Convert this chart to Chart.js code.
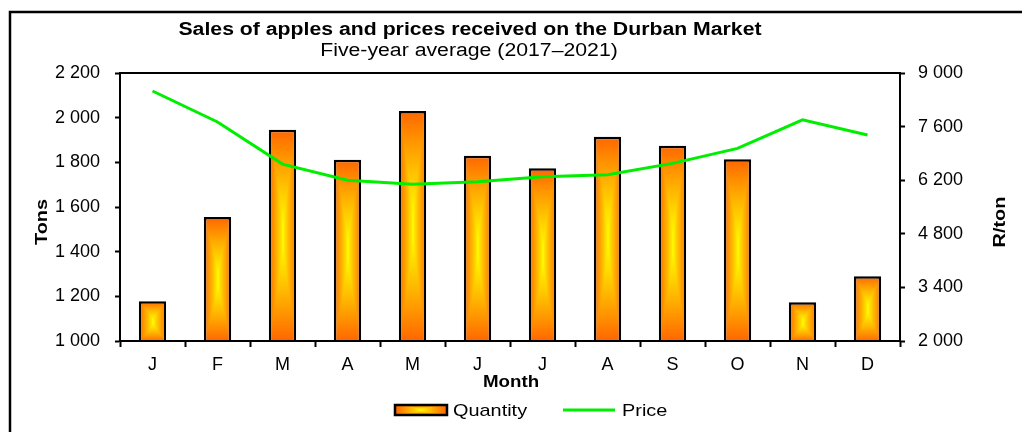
<!DOCTYPE html>
<html>
<head>
<meta charset="utf-8">
<script src="https://cdn.jsdelivr.net/npm/chart.js@4.4.1/dist/chart.umd.min.js"></script>
<style>
  html, body { margin: 0; background: #fff; }
  #wrap { width: 1022px; height: 432px; }
</style>
</head>
<body>
<div id="wrap"><canvas id="salesChart"></canvas></div>
<script>
// data
const months = ['J', 'F', 'M', 'A', 'M', 'J', 'J', 'A', 'S', 'O', 'N', 'D'];
const quantity = [1178, 1555, 1946, 1812, 2030, 1830, 1774, 1914, 1874, 1814, 1174, 1290];
const price = [8530, 7720, 6620, 6200, 6095, 6160, 6290, 6345, 6640, 7030, 7775, 7380];
const tonsTicks = [1000, 1200, 1400, 1600, 1800, 2000, 2200];
const randTicks = [2000, 3400, 4800, 6200, 7600, 9000];

const FONT = "'Liberation Sans', Arial, sans-serif";
const BAR_PCT = 0.42;
const STRETCH = 1.17; // the reference text is a little wider than Arial

Chart.defaults.font.family = FONT;
Chart.defaults.color = '#000';

function spaced(v) {
    return String(v).replace(/\B(?=(\d{3})+(?!\d))/g, ' ');
}

// orange-to-yellow "glow" fill, as in the spreadsheet bars
const fillCache = {};
function glowFill(w, h) {
    const key = w + 'x' + h;
    if (fillCache[key]) return fillCache[key];
    const c = document.createElement('canvas');
    c.width = w;
    c.height = h;
    const g = c.getContext('2d');
    const img = g.createImageData(w, h);
    for (let py = 0; py < h; py++) {
        const dy = Math.abs(py + 0.5 - h / 2) / (h / 2);
        for (let px = 0; px < w; px++) {
            const dx = Math.abs(px + 0.5 - w / 2) / (w / 2);
            const t = Math.min(1, Math.max(dx, Math.pow(dy, 1.5)));
            const k = (py * w + px) * 4;
            img.data[k] = 255;
            img.data[k + 1] = Math.round(255 - 155 * Math.pow(t, 0.8));
            img.data[k + 2] = 0;
            img.data[k + 3] = 255;
        }
    }
    g.putImageData(img, 0, 0);
    fillCache[key] = c;
    return c;
}

function barBackground(context) {
    const chart = context.chart;
    const i = context.dataIndex;
    const xs = chart.scales.x, ys = chart.scales.y;
    if (i === undefined || !xs || !ys || !xs.width) return '#ff9900';
    const cx = xs.getPixelForValue(i);
    const w = Math.ceil(xs.width / months.length * BAR_PCT) + 2;
    const top = Math.floor(ys.getPixelForValue(context.raw));
    const h = Math.max(2, Math.ceil(ys.getPixelForValue(ys.min)) - top + 1);
    const left = Math.round(cx - w / 2);
    const pat = chart.ctx.createPattern(glowFill(w, h), 'no-repeat');
    pat.setTransform(new DOMMatrix([1, 0, 0, 1, left, top]));
    return pat;
}

function wideText(ctx, str, x, y, font, align, rot, stretch) {
    ctx.save();
    ctx.translate(x, y);
    if (rot) ctx.rotate(rot);
    ctx.scale(stretch || STRETCH, 1);
    ctx.font = font;
    ctx.fillStyle = '#000';
    ctx.textAlign = align;
    ctx.textBaseline = 'middle';
    ctx.fillText(str, 0, 0);
    ctx.restore();
}

// frame, headings, axis titles and legend
const decor = {
    id: 'decor',
    beforeDraw(chart) {
        const ctx = chart.ctx;
        ctx.save();
        ctx.strokeStyle = '#000';
        ctx.lineWidth = 2.5;
        ctx.beginPath();
        ctx.moveTo(10, 440);
        ctx.lineTo(10, 12);
        ctx.lineTo(1030, 12);
        ctx.stroke();
        ctx.restore();
    },
    afterDraw(chart) {
        const ctx = chart.ctx;
        const a = chart.chartArea;
        ctx.save();
        ctx.strokeStyle = '#000';
        ctx.lineWidth = 2;
        ctx.strokeRect(a.left, a.top, a.right - a.left, a.bottom - a.top);
        ctx.restore();

        wideText(ctx, 'Sales of apples and prices received on the Durban Market', 470, 30, 'bold 18px ' + FONT, 'center', 0, 1.18);
        wideText(ctx, 'Five-year average (2017–2021)', 469, 51, '18px ' + FONT, 'center', 0, 1.18);
        wideText(ctx, 'Tons', 42, 222, 'bold 17px ' + FONT, 'center', -Math.PI / 2);
        wideText(ctx, 'R/ton', 1000, 222, 'bold 17px ' + FONT, 'center', -Math.PI / 2);
        wideText(ctx, 'Month', 511, 383, 'bold 16px ' + FONT, 'center');

        // legend
        const pat = ctx.createPattern(glowFill(52, 10), 'no-repeat');
        pat.setTransform(new DOMMatrix([1, 0, 0, 1, 395, 405]));
        ctx.save();
        ctx.fillStyle = pat;
        ctx.fillRect(395, 405, 52, 10);
        ctx.strokeStyle = '#000';
        ctx.lineWidth = 2.5;
        ctx.strokeRect(395, 405, 52, 10);
        ctx.strokeStyle = '#00ee00';
        ctx.lineWidth = 3;
        ctx.beginPath();
        ctx.moveTo(563, 410);
        ctx.lineTo(615, 410);
        ctx.stroke();
        ctx.restore();
        wideText(ctx, 'Quantity', 453, 411, '17px ' + FONT, 'left');
        wideText(ctx, 'Price', 622, 411, '17px ' + FONT, 'left');
    }
};

new Chart(document.getElementById('salesChart'), {
    type: 'bar',
    data: {
        labels: months,
        datasets: [{
            type: 'line',
            label: 'Price',
            data: price,
            yAxisID: 'y1',
            borderColor: '#00ee00',
            borderWidth: 3,
            pointRadius: 0,
            tension: 0,
            order: 0
        }, {
            type: 'bar',
            label: 'Quantity',
            data: quantity,
            yAxisID: 'y',
            backgroundColor: barBackground,
            borderColor: '#000',
            borderWidth: 2.5,
            borderSkipped: false,
            barPercentage: BAR_PCT,
            categoryPercentage: 1,
            order: 1
        }]
    },
    options: {
        responsive: true,
        maintainAspectRatio: false,
        animation: false,
        layout: { padding: { top: 73, left: 0, right: 0, bottom: 0 } },
        plugins: {
            legend: { display: false },
            tooltip: { enabled: false }
        },
        scales: {
            x: {
                offset: true,
                afterFit(s) { s.height = 91; },
                grid: { offset: true, drawOnChartArea: false, tickLength: 6, tickWidth: 2, tickColor: '#000' },
                border: { color: '#000', width: 2 },
                ticks: { font: { size: 18 }, padding: 7, maxRotation: 0, autoSkip: false }
            },
            y: {
                position: 'left',
                min: 1000,
                max: 2200,
                afterFit(s) { s.width = 120; },
                afterBuildTicks(s) { s.ticks = tonsTicks.map(v => ({ value: v })); },
                grid: { drawOnChartArea: false, tickLength: 5, tickWidth: 2, tickColor: '#000' },
                border: { color: '#000', width: 2 },
                ticks: { font: { size: 18 }, padding: 15, callback: v => spaced(v) }
            },
            y1: {
                position: 'right',
                min: 2000,
                max: 9000,
                afterFit(s) { s.width = 122; },
                afterBuildTicks(s) { s.ticks = randTicks.map(v => ({ value: v })); },
                grid: { drawOnChartArea: false, tickLength: 5, tickWidth: 2, tickColor: '#000' },
                border: { color: '#000', width: 2 },
                ticks: { font: { size: 18 }, padding: 13, callback: v => spaced(v) }
            }
        }
    },
    plugins: [decor]
});
</script>
</body>
</html>
